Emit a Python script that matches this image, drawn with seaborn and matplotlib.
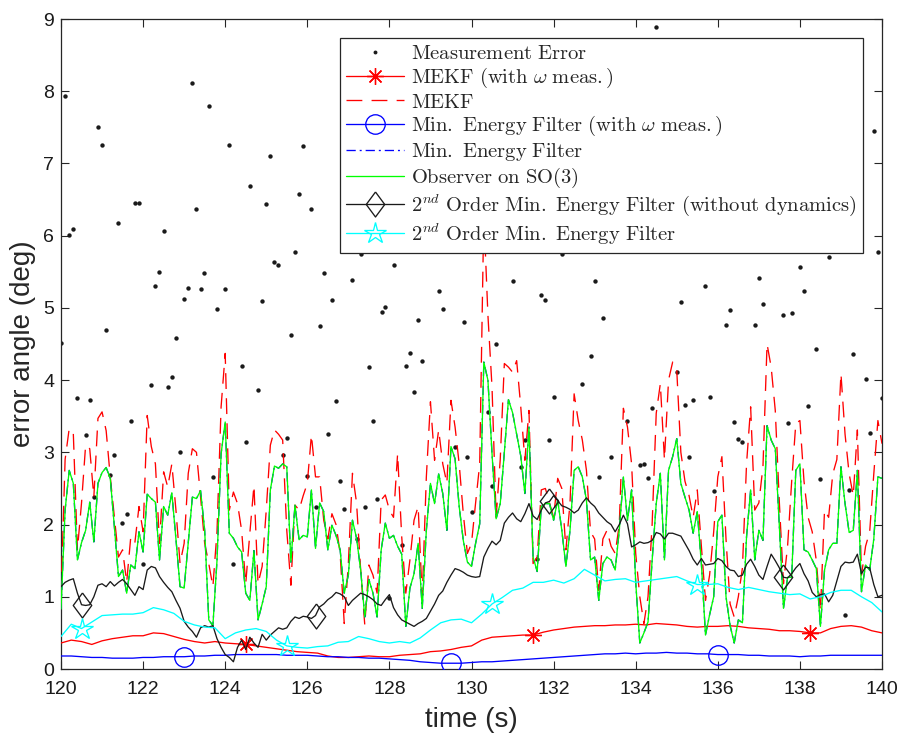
import numpy as np
import matplotlib
matplotlib.use("Agg")
import matplotlib.pyplot as plt
from matplotlib.lines import Line2D
import seaborn as sns

sns.set_theme(style="white")
plt.rcParams["font.family"] = ["Liberation Sans", "DejaVu Sans"]
plt.rcParams["mathtext.fontset"] = "cm"

# time grids: filters sampled every 0.1 s, smooth filters shown every 0.25 s
t_fast = np.round(120 + 0.1 * np.arange(201), 2)
t_slow = 120 + 0.25 * np.arange(81)

# measurement error samples (time, angle)
meas_t = [120.0, 120.09, 120.2, 120.29, 120.39, 120.6, 120.7, 120.8, 120.9, 121.0,
          121.1, 121.2, 121.29, 121.39, 121.49, 121.6, 121.7, 121.8, 121.9, 122.0,
          122.19, 122.29, 122.39, 122.5, 122.6, 122.7, 122.8, 122.9, 123.0, 123.09,
          123.19, 123.29, 123.4, 123.48, 123.6, 123.7, 123.8, 124.0, 124.09, 124.19,
          124.4, 124.5, 124.6, 124.8, 124.9, 125.0, 125.1, 125.19, 125.29, 125.4,
          125.5, 125.6, 125.7, 125.8, 125.9, 126.0, 126.1, 126.2, 126.3, 126.4,
          126.5, 126.6, 126.7, 126.8, 126.9, 127.1, 127.2, 127.31, 127.4, 127.5,
          127.6, 127.7, 127.82, 127.9, 128.0, 128.1, 128.3, 128.4, 128.5, 128.6,
          128.7, 128.8, 129.2, 129.3, 129.6, 129.82, 129.9, 130.0, 130.4, 130.5,
          130.6, 131.0, 131.2, 131.3, 131.6, 131.7, 131.8, 131.9, 132.0, 132.2,
          132.7, 132.9, 133.0, 133.1, 133.2, 133.4, 133.8, 134.1, 134.2, 134.3,
          134.4, 134.5, 135.0, 135.1, 135.2, 135.3, 135.4, 135.7, 135.8, 135.9,
          136.2, 136.3, 136.4, 136.5, 136.6, 136.9, 137.0, 137.1, 137.6, 137.7,
          137.8, 138.0, 138.1, 138.2, 138.4, 138.5, 138.7, 139.1, 139.2, 139.3,
          139.6, 139.7, 139.8, 139.9, 140.0]
meas_err = [4.51, 7.94, 6.01, 6.09, 3.75, 3.24, 3.73, 2.38, 7.5, 7.26,
            4.69, 2.68, 2.97, 6.18, 2.02, 2.14, 3.44, 6.45, 6.45, 1.45,
            3.93, 5.3, 5.5, 6.07, 3.91, 4.04, 4.59, 3.0, 5.12, 5.27,
            8.12, 6.37, 5.26, 5.48, 7.8, 2.66, 4.98, 5.26, 7.25, 1.45,
            4.19, 3.14, 6.69, 3.87, 5.1, 6.44, 7.1, 5.63, 5.59, 2.97,
            3.2, 4.62, 5.77, 6.58, 7.24, 2.67, 6.37, 2.25, 4.75, 5.48,
            3.26, 5.11, 3.71, 2.61, 2.21, 5.38, 1.8, 5.75, 2.24, 4.18,
            3.43, 2.35, 4.94, 5.01, 0.98, 5.59, 1.72, 4.2, 4.37, 3.83,
            4.83, 4.27, 5.23, 4.98, 3.07, 4.8, 2.94, 2.18, 3.56, 2.53,
            4.5, 5.37, 2.8, 3.17, 1.52, 5.18, 5.11, 3.17, 3.77, 5.75,
            3.94, 4.33, 5.37, 2.66, 4.86, 2.93, 3.43, 2.82, 2.84, 2.64,
            3.61, 8.89, 4.11, 5.08, 3.66, 2.94, 3.73, 5.31, 3.76, 2.47,
            4.76, 4.97, 3.42, 3.18, 3.14, 4.76, 5.42, 5.05, 4.9, 3.4,
            4.93, 5.57, 5.23, 3.64, 4.43, 2.63, 5.71, 0.75, 2.48, 4.36,
            4.01, 3.27, 7.45, 5.77, 3.75]

# MEKF with angular velocity measurement (every 0.25 s)
mekf_omega = [0.36, 0.40, 0.38, 0.34, 0.39, 0.42, 0.44, 0.46, 0.46, 0.50,
              0.49, 0.45, 0.41, 0.38, 0.36, 0.38, 0.36, 0.35, 0.34, 0.32,
              0.30, 0.28, 0.26, 0.24, 0.23, 0.22, 0.18, 0.16, 0.16, 0.17,
              0.18, 0.17, 0.17, 0.19, 0.20, 0.21, 0.24, 0.25, 0.27, 0.30,
              0.32, 0.40, 0.44, 0.45, 0.46, 0.47, 0.47, 0.51, 0.54, 0.56,
              0.58, 0.59, 0.60, 0.60, 0.61, 0.61, 0.62, 0.61, 0.63, 0.62,
              0.61, 0.59, 0.58, 0.59, 0.59, 0.60, 0.59, 0.57, 0.56, 0.55,
              0.53, 0.53, 0.52, 0.50, 0.50, 0.56, 0.59, 0.60, 0.58, 0.53,
              0.50]

# MEKF (every 0.1 s)
mekf = [1.0, 2.9, 3.33, 3.26, 1.65, 2.3, 3.1, 3.05, 2.38, 3.47,
        3.56, 3.3, 2.66, 2.1, 1.55, 1.65, 1.2, 1.83, 1.75, 2.25,
        1.9, 3.51, 3.08, 2.84, 1.74, 2.73, 2.52, 2.84, 2.2, 1.46,
        1.74, 2.71, 3.05, 3.0, 2.38, 1.74, 1.46, 1.14, 1.9, 3.63,
        4.37, 2.2, 2.45, 2.29, 1.92, 1.18, 1.88, 2.54, 1.18, 1.42,
        2.2, 3.1, 3.31, 3.25, 3.17, 1.92, 1.16, 2.27, 2.2, 2.4,
        2.57, 3.24, 2.66, 2.66, 2.06, 1.8, 2.15, 2.0, 1.6, 0.63,
        1.46, 2.71, 2.3, 1.37, 0.61, 1.44, 1.3, 1.05, 2.34, 2.41,
        2.2, 2.1, 2.98, 1.83, 1.05, 1.51, 2.06, 2.25, 1.0, 2.66,
        3.7, 2.89, 3.31, 2.84, 2.57, 3.72, 3.35, 2.84, 2.15, 1.6,
        1.74, 2.3, 2.84, 6.3, 4.9, 3.9, 2.1, 2.9, 4.23, 4.18,
        4.11, 4.27, 3.63, 2.89, 3.58, 1.46, 1.55, 2.48, 2.5, 2.3,
        2.1, 2.64, 2.5, 1.65, 2.3, 3.81, 3.44, 3.17, 2.75, 1.9,
        1.8, 1.09, 1.8, 1.92, 1.7, 1.6, 2.0, 3.61, 3.35, 2.84,
        1.6, 1.0, 0.63, 1.0, 2.0, 3.54, 3.95, 2.9, 4.0, 4.25,
        4.14, 3.0, 2.6, 2.4, 2.1, 2.48, 1.7, 0.95, 1.3, 1.9,
        2.66, 2.94, 1.8, 0.9, 0.72, 1.0, 1.4, 2.84, 3.63, 2.2,
        2.3, 2.8, 4.5, 4.18, 3.58, 2.3, 1.18, 1.7, 2.6, 3.4,
        3.44, 2.6, 2.1, 1.9, 1.5, 0.8, 2.2, 2.1, 2.7, 2.9,
        4.09, 3.25, 2.7, 2.4, 3.31, 1.3, 1.7, 1.9, 2.7, 3.44,
        3.12]

# minimum energy filter with angular velocity measurement (every 0.25 s)
min_energy_omega = [0.18, 0.18, 0.17, 0.16, 0.16, 0.15, 0.15, 0.15, 0.16, 0.16,
                    0.17, 0.17, 0.17, 0.18, 0.18, 0.19, 0.19, 0.20, 0.20, 0.20,
                    0.20, 0.20, 0.19, 0.19, 0.19, 0.18, 0.17, 0.17, 0.16, 0.16,
                    0.15, 0.15, 0.14, 0.13, 0.12, 0.10, 0.09, 0.08, 0.08, 0.08,
                    0.09, 0.10, 0.10, 0.11, 0.12, 0.13, 0.14, 0.15, 0.16, 0.17,
                    0.18, 0.19, 0.20, 0.21, 0.21, 0.22, 0.21, 0.22, 0.22, 0.23,
                    0.22, 0.22, 0.21, 0.21, 0.20, 0.20, 0.20, 0.19, 0.19, 0.18,
                    0.18, 0.18, 0.17, 0.18, 0.18, 0.19, 0.19, 0.19, 0.19, 0.19,
                    0.19]

# observer on SO(3) (every 0.1 s); the minimum energy filter follows it
observer = [0.83, 2.2, 2.75, 2.57, 1.51, 1.75, 1.92, 2.31, 1.76, 2.57,
            2.72, 2.79, 2.64, 1.97, 1.28, 1.37, 1.05, 1.44, 1.39, 1.9,
            1.62, 2.42, 2.36, 2.31, 1.51, 2.25, 2.13, 2.44, 1.8, 1.14,
            1.12, 1.75, 2.38, 2.36, 2.47, 1.92, 0.68, 0.6, 1.5, 2.98,
            3.42, 1.88, 1.81, 1.69, 1.62, 1.05, 0.95, 1.64, 0.68, 0.9,
            1.14, 2.48, 2.81, 2.78, 2.84, 2.8, 1.48, 2.27, 1.79, 1.85,
            1.83, 2.48, 1.67, 2.3, 2.18, 1.65, 1.99, 1.85, 1.65, 1.05,
            1.3, 2.06, 1.81, 1.37, 0.72, 1.24, 1.05, 0.72, 1.65, 2.02,
            1.81, 1.85, 1.7, 1.59, 0.59, 1.12, 1.32, 1.74, 0.84, 1.92,
            2.57, 2.29, 2.7, 2.43, 1.92, 3.08, 2.91, 2.25, 1.78, 1.48,
            1.42, 1.74, 2.01, 4.25, 4.0, 2.98, 2.08, 2.29, 3.0, 3.73,
            3.55, 3.25, 2.95, 2.43, 3.35, 1.55, 1.35, 2.25, 2.29, 2.29,
            2.06, 2.34, 1.92, 1.42, 1.92, 2.75, 2.8, 2.66, 2.34, 1.51,
            1.55, 0.95, 1.46, 1.55, 1.51, 1.37, 1.92, 2.66, 2.06, 2.48,
            1.2, 0.36, 0.5, 0.65, 1.5, 2.29, 2.71, 1.51, 2.75, 2.94,
            3.19, 2.57, 2.38, 2.2, 1.88, 2.18, 1.46, 0.47, 0.75, 1.0,
            2.04, 2.13, 1.0, 0.6, 0.36, 0.68, 0.64, 1.83, 2.48, 1.51,
            1.92, 1.78, 3.37, 3.17, 3.05, 1.97, 0.84, 1.27, 1.27, 2.75,
            2.84, 1.65, 1.62, 1.51, 1.39, 0.59, 1.37, 1.65, 1.74, 1.74,
            2.8, 2.29, 1.89, 1.92, 2.75, 1.07, 1.44, 1.37, 1.8, 2.66,
            2.64]
min_energy = list(observer)

# second order minimum energy filter without dynamics (every 0.1 s)
second_order_nodyn = [1.14, 1.2, 1.23, 1.25, 1.05, 0.89, 0.88, 0.89, 1.0, 1.16,
                      1.18, 1.14, 1.21, 1.15, 1.2, 1.24, 1.18, 1.1, 1.02, 1.14,
                      1.1, 1.37, 1.42, 1.4, 1.28, 1.2, 1.13, 1.07, 0.95, 0.84,
                      0.66, 0.58, 0.52, 0.44, 0.57, 0.6, 0.58, 0.6, 0.42, 0.3,
                      0.2, 0.16, 0.1, 0.3, 0.4, 0.27, 0.44, 0.36, 0.3, 0.48,
                      0.4, 0.47, 0.52, 0.57, 0.55, 0.57, 0.66, 0.72, 0.7, 0.73,
                      0.72, 0.7, 0.74, 0.86, 0.9, 0.96, 1.0, 1.06, 1.04, 1.0,
                      0.88, 0.95, 1.0, 1.05, 1.03, 1.0, 0.96, 0.9, 0.88, 0.96,
                      1.03, 0.85, 0.75, 0.68, 0.65, 0.62, 0.59, 0.63, 0.66, 0.7,
                      0.8, 0.9, 1.02, 1.08, 1.2, 1.3, 1.39, 1.37, 1.34, 1.3,
                      1.28, 1.27, 1.28, 1.55, 1.67, 1.77, 1.72, 1.78, 2.02, 2.1,
                      2.16, 2.08, 2.04, 2.15, 2.29, 2.12, 2.07, 2.2, 2.3, 2.32,
                      2.4, 2.33, 2.26, 2.24, 2.21, 2.16, 2.2, 2.3, 2.37, 2.3,
                      2.25, 2.16, 2.1, 2.04, 2.0, 1.9, 2.0, 2.13, 2.01, 1.69,
                      1.72, 1.76, 1.74, 1.75, 1.78, 1.89, 1.87, 1.8, 1.88, 1.88,
                      1.86, 1.84, 1.74, 1.64, 1.52, 1.44, 1.53, 1.44, 1.45, 1.46,
                      1.53, 1.5, 1.42, 1.37, 1.36, 1.28, 1.3, 1.45, 1.52, 1.42,
                      1.3, 1.24, 1.42, 1.59, 1.5, 1.4, 1.27, 1.26, 1.32, 1.4,
                      1.46, 1.32, 1.22, 1.06, 1.0, 1.03, 1.04, 0.93, 1.02, 1.22,
                      1.42, 1.48, 1.47, 1.48, 1.59, 1.32, 1.41, 1.4, 1.17, 1.0,
                      1.02]

# second order minimum energy filter (every 0.25 s)
second_order = [0.45, 0.62, 0.56, 0.65, 0.74, 0.75, 0.76, 0.76, 0.78, 0.85,
                0.82, 0.77, 0.66, 0.61, 0.58, 0.57, 0.42, 0.50, 0.54, 0.56,
                0.52, 0.40, 0.32, 0.30, 0.29, 0.31, 0.32, 0.37, 0.38, 0.45,
                0.42, 0.38, 0.36, 0.38, 0.36, 0.43, 0.54, 0.64, 0.68, 0.69,
                0.64, 0.76, 0.90, 0.99, 1.09, 1.12, 1.20, 1.20, 1.23, 1.19,
                1.25, 1.38, 1.30, 1.22, 1.24, 1.25, 1.20, 1.22, 1.24, 1.26,
                1.28, 1.22, 1.17, 1.17, 1.18, 1.13, 1.10, 1.13, 1.10, 1.07,
                1.05, 1.03, 1.04, 0.97, 1.00, 1.06, 1.09, 1.09, 1.00, 0.92,
                0.79]

labels = [
    r"$\mathrm{Measurement\ Error}$",
    r"$\mathrm{MEKF\ (with\ }\omega\mathrm{\ meas.)}$",
    r"$\mathrm{MEKF}$",
    r"$\mathrm{Min.\ Energy\ Filter\ (with\ }\omega\mathrm{\ meas.)}$",
    r"$\mathrm{Min.\ Energy\ Filter}$",
    r"$\mathrm{Observer\ on\ SO(3)}$",
    r"$2^{nd}\mathrm{\ Order\ Min.\ Energy\ Filter\ (without\ dynamics)}$",
    r"$2^{nd}\mathrm{\ Order\ Min.\ Energy\ Filter}$",
]

RED, BLUE, GREEN, CYAN = (1, 0, 0), (0, 0, 1), (0, 1, 0), (0, 1, 1)
LW = 0.95
DASH = (0, (12, 7))
DASHDOT = (0, (7, 3, 1.5, 3))
asterisk = (8, 2, 0)
diamond = [(0, 1), (0.74, 0), (0, -1), (-0.74, 0), (0, 1)]

fig = plt.figure(figsize=(9.04, 7.35), dpi=100)
ax = fig.add_axes([61 / 904, 66 / 735, 821 / 904, 650 / 735])
ax.set_facecolor("white")

sns.scatterplot(x=meas_t, y=meas_err, ax=ax, color="k", s=10, linewidth=0,
                marker="o", zorder=2)
sns.lineplot(x=t_slow, y=mekf_omega, ax=ax, color=RED, lw=LW, sort=False,
             estimator=None, marker=asterisk, markevery=[18, 46, 73],
             markersize=12, mec=RED, mew=LW, zorder=3)
sns.lineplot(x=t_fast, y=mekf, ax=ax, color=RED, lw=LW, sort=False,
             estimator=None, linestyle=DASH, zorder=3)
sns.lineplot(x=t_slow, y=min_energy_omega, ax=ax, color=BLUE, lw=LW, sort=False,
             estimator=None, marker="o", markevery=[12, 38, 64], markersize=14,
             mfc="none", mec=BLUE, mew=LW, zorder=3)
sns.lineplot(x=t_fast, y=min_energy, ax=ax, color=BLUE, lw=LW, sort=False,
             estimator=None, linestyle=DASHDOT, zorder=3)
sns.lineplot(x=t_fast, y=observer, ax=ax, color=GREEN, lw=LW, sort=False,
             estimator=None, zorder=3)
sns.lineplot(x=t_fast, y=second_order_nodyn, ax=ax, color="k", lw=LW, sort=False,
             estimator=None, marker=diamond, markevery=[5, 62, 119, 176],
             markersize=18, mfc="none", mec="k", mew=LW, zorder=3)
sns.lineplot(x=t_slow, y=second_order, ax=ax, color=CYAN, lw=LW, sort=False,
             estimator=None, marker="*", markevery=[2, 22, 42, 62],
             markersize=16, mfc="none", mec=CYAN, mew=LW, zorder=3)

ax.set_xlim(120, 140)
ax.set_ylim(0, 9)
ax.set_xticks(np.arange(120, 141, 2))
ax.set_yticks(np.arange(0, 10, 1))
ax.tick_params(direction="in", length=6, width=0.8, colors="0.15",
               labelcolor="k", labelsize=14, top=True, right=True,
               bottom=True, left=True)
ax.tick_params(axis="x", pad=9)
ax.tick_params(axis="y", pad=5)
for side in ax.spines.values():
    side.set_color("0.15")
    side.set_linewidth(0.9)
ax.set_xlabel("time (s)", fontsize=20, labelpad=6)
ax.set_ylabel("error angle (deg)", fontsize=20, labelpad=5)

handles = [
    Line2D([], [], ls="none", marker="o", ms=2.8, color="k", mew=0),
    Line2D([], [], color=RED, lw=LW, marker=asterisk, ms=12, mec=RED, mew=LW),
    Line2D([], [], color=RED, lw=LW, ls=DASH),
    Line2D([], [], color=BLUE, lw=LW, marker="o", ms=14, mfc="none", mec=BLUE, mew=LW),
    Line2D([], [], color=BLUE, lw=LW, ls=DASHDOT),
    Line2D([], [], color=GREEN, lw=LW),
    Line2D([], [], color="k", lw=LW, marker=diamond, ms=18, mfc="none", mec="k", mew=LW),
    Line2D([], [], color=CYAN, lw=LW, marker="*", ms=16, mfc="none", mec=CYAN, mew=LW),
]
leg = ax.legend(handles, labels, loc="upper left", bbox_to_anchor=(0.34, 0.971),
                borderaxespad=0, fontsize=14.8, numpoints=1, handlelength=2.8,
                handletextpad=0.35, labelspacing=0.13, borderpad=0.3,
                frameon=True, fancybox=False, framealpha=1, edgecolor="0.15")
leg.get_frame().set_linewidth(0.9)

fig.savefig("out.png", dpi=100)
